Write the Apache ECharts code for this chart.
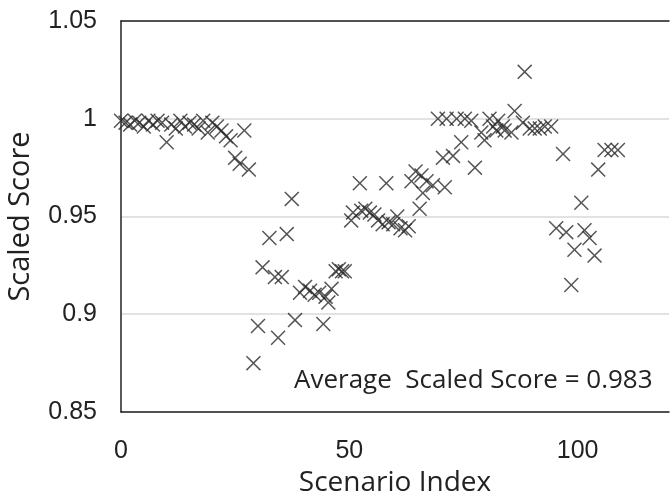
<!DOCTYPE html>
<html>
<head>
<meta charset="utf-8">
<script src="https://cdn.jsdelivr.net/npm/echarts@6/dist/echarts.min.js"></script>
<style>
    html, body { margin: 0; padding: 0; background: #fff; }
    #chart { width: 671px; height: 496px; }
</style>
</head>
<body>
<div id="chart"></div>
<script>
    // x = scenario index, y = scaled score
    let scenarioIndex = [
        0, 1, 2, 3, 4, 5, 6, 7, 8, 9, 10, 11, 12, 13, 14, 15, 16, 17, 18, 19, 20, 21, 22, 23, 24, 25, 26, 27, 28,
        29, 30, 31, 32.5, 33.7, 34.4, 35.2, 36.3, 37.4, 38.1, 39.2, 40.3, 41.4, 42.4, 43.4, 44.3, 44.8, 45.4, 46.1, 47, 47.7, 48.4, 49,
        50.4, 50.8, 52.3, 52.6, 53.5, 54.5, 55.5, 56.3, 57.3, 58.1, 58.6, 59.6, 60.5, 61.2, 62.2, 63,
        63.6, 64.5, 65.4, 65.8, 66.1, 66.9, 68.3, 69.4, 70.5, 70.9, 71.3, 72.7, 73.5, 74.5, 75.3, 76.7, 77.5, 78.9, 79.6,
        80.7, 81.5, 82.2, 82.6, 83.6, 84, 85.5, 86.2, 88, 88.4, 89.5, 90.6, 91.7, 92.8, 94.2,
        95.3, 96.8, 97.5, 98.6, 99.3, 100.8, 101.5, 102.6, 103.7, 104.5, 105.9, 107.4, 108.8
    ];
    let scaledScore = [
        0.999, 0.998, 0.997, 0.999, 0.998, 0.996, 0.999, 0.997, 0.999, 0.998, 0.988, 0.997, 0.995, 0.999, 0.996, 0.998, 0.997, 0.995, 0.999, 0.993, 0.998, 0.996, 0.994, 0.991, 0.989, 0.980, 0.977, 0.994, 0.974,
        0.875, 0.894, 0.924, 0.939, 0.919, 0.888, 0.919, 0.941, 0.959, 0.897, 0.911, 0.914, 0.912, 0.910, 0.911, 0.895, 0.909, 0.906, 0.913, 0.922, 0.923, 0.922, 0.922,
        0.948, 0.952, 0.967, 0.953, 0.954, 0.952, 0.951, 0.948, 0.946, 0.967, 0.947, 0.946, 0.950, 0.944, 0.943, 0.945,
        0.968, 0.973, 0.954, 0.971, 0.962, 0.968, 0.966, 1.000, 0.980, 0.965, 1.000, 0.981, 1.000, 0.988, 1.000, 0.999, 0.975, 0.993, 0.989,
        1.000, 0.996, 0.994, 0.999, 0.996, 0.994, 0.993, 1.004, 0.998, 1.024, 0.995, 0.995, 0.995, 0.996, 0.996,
        0.944, 0.982, 0.942, 0.915, 0.933, 0.957, 0.943, 0.939, 0.930, 0.974, 0.984, 0.984, 0.984
    ];
    let yTicks = [0.85, 0.9, 0.95, 1, 1.05];
    let xTicks = [0, 50, 100];
    let averageText = 'Average  Scaled Score = 0.983';

    // 'x' marker made of two thin diagonal strips
    let crossPath = 'path://M0,7 L7,0 L50,43 L93,0 L100,7 L57,50 L100,93 L93,100 L50,57 L7,100 L0,93 L43,50 Z';

    let points = scenarioIndex.map(function (x, i) { return [x, scaledScore[i]]; });

    let chart = echarts.init(document.getElementById('chart'));
    let option = {
        animation: false,
        grid: {
            left: 121,
            top: 21,
            right: 2,
            bottom: 84,
            outerBoundsMode: 'none'
        },
        xAxis: [{
            type: 'value',
            min: 0,
            max: 120,
            interval: 50,
            name: 'Scenario Index',
            nameLocation: 'middle',
            nameGap: 56,
            nameTextStyle: { fontFamily: 'Open Sans', fontSize: 28, color: '#222' },
            axisLine: { show: true, onZero: false, lineStyle: { color: '#222', width: 1.5 } },
            axisTick: { show: false },
            splitLine: { show: false },
            axisLabel: {
                margin: 27,
                fontFamily: 'Liberation Sans',
                fontSize: 25,
                color: '#222',
                formatter: function (v) { return xTicks.indexOf(v) >= 0 ? String(v) : ''; }
            }
        }, {
            type: 'value',
            position: 'top',
            min: 0,
            max: 120,
            axisLine: { show: true, lineStyle: { color: '#222', width: 1.5 } },
            axisTick: { show: false },
            axisLabel: { show: false },
            splitLine: { show: false }
        }],
        yAxis: {
            type: 'value',
            min: 0.85,
            max: 1.05,
            interval: 0.05,
            name: 'Scaled Score',
            nameLocation: 'middle',
            nameGap: 86,
            nameTextStyle: { fontFamily: 'Open Sans', fontSize: 29, color: '#222' },
            axisLine: { show: true, lineStyle: { color: '#222', width: 1.5 } },
            axisTick: { show: false },
            splitLine: { show: true, lineStyle: { color: '#d9d9d9', width: 1.5 } },
            axisLabel: {
                margin: 24,
                fontFamily: 'Liberation Sans',
                fontSize: 25,
                color: '#222',
                formatter: function (v) {
                    let r = parseFloat(v.toFixed(2));
                    return yTicks.indexOf(r) >= 0 ? String(r) : '';
                }
            }
        },
        graphic: [{
            type: 'text',
            left: 294,
            top: 368,
            style: {
                text: averageText,
                fontFamily: 'Open Sans',
                fontSize: 26,
                fill: '#222'
            }
        }],
        series: [{
            type: 'scatter',
            data: points,
            symbol: crossPath,
            symbolSize: 15,
            itemStyle: { color: '#2a2a2a' }
        }]
    };
    chart.setOption(option);
    window.addEventListener('resize', function () {
        chart.resize();
    });
</script>
</body>
</html>
